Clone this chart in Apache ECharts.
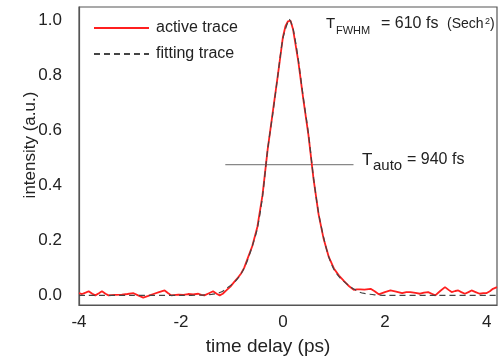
<!DOCTYPE html>
<html>
<head>
<meta charset="utf-8">
<script src="https://cdn.jsdelivr.net/npm/echarts@6/dist/echarts.min.js"></script>
<style>html,body{margin:0;padding:0;background:#fff}#c{width:501px;height:356px}</style>
</head>
<body>
<div id="c"></div>
<script>
// ---- data ----
var activeTime = [-4.0,-3.94,-3.87,-3.81,-3.74,-3.68,-3.61,-3.55,-3.48,-3.42,-3.3,-3.16,-3.05,-2.93,-2.84,-2.74,-2.64,-2.54,-2.43,-2.32,-2.25,-2.19,-2.05,-1.95,-1.86,-1.76,-1.66,-1.6,-1.54,-1.45,-1.37,-1.3,-1.24,-1.18,-1.11,-1.03,-0.95,-0.88,-0.82,-0.76,-0.7,-0.6,-0.5,-0.4,-0.3,-0.2,-0.1,0.0,0.05,0.1,0.12,0.15,0.2,0.3,0.4,0.5,0.6,0.7,0.8,0.9,1.0,1.1,1.2,1.3,1.39,1.45,1.52,1.6,1.72,1.8,1.88,2.0,2.11,2.22,2.34,2.42,2.5,2.6,2.69,2.77,2.85,2.92,2.99,3.08,3.18,3.25,3.31,3.38,3.44,3.5,3.57,3.64,3.7,3.78,3.86,3.93,3.99,4.06,4.12,4.2];
var activeVals = [0.008,0.005,0.01,0.015,0.006,0.0,0.008,0.015,0.006,0.0,0.002,0.003,0.005,0.008,0.0,-0.008,-0.002,0.005,0.012,0.018,0.008,0.0,0.003,0.002,0.005,0.004,0.006,0.002,0.0,0.008,0.015,0.006,0.0,0.006,0.018,0.032,0.05,0.065,0.08,0.1,0.13,0.18,0.25,0.365,0.53,0.665,0.8,0.94,0.98,0.998,1.005,1.0,0.968,0.855,0.715,0.585,0.425,0.295,0.205,0.14,0.098,0.072,0.052,0.033,0.02,0.022,0.022,0.021,0.024,0.015,0.004,0.012,0.018,0.014,0.008,0.012,0.012,0.009,0.006,0.01,0.012,0.006,0.0,0.015,0.03,0.02,0.012,0.016,0.018,0.012,0.006,0.012,0.018,0.012,0.006,0.008,0.008,0.015,0.024,0.03];
var fitTime = [-4.0,-3.0,-2.0,-1.6,-1.4,-1.3,-1.2,-1.1,-1.0,-0.9,-0.8,-0.7,-0.6,-0.5,-0.4,-0.3,-0.2,-0.1,0.0,0.1,0.12,0.2,0.3,0.4,0.5,0.6,0.7,0.8,0.9,1.0,1.1,1.2,1.3,1.4,1.5,1.6,1.8,2.0,3.0,4.2];
var fitVals = [0.0,0.0,0.0,0.001,0.004,0.007,0.013,0.027,0.04,0.058,0.085,0.125,0.18,0.245,0.36,0.53,0.66,0.8,0.935,0.998,1.005,0.97,0.86,0.72,0.59,0.43,0.3,0.21,0.14,0.095,0.068,0.05,0.035,0.022,0.012,0.007,0.002,0.0,0.0,0.0];
var halfTime = [-1.13, 1.385];
var halfVals = [0.476, 0.476];
var xTicks = [-4, -2, 0, 2, 4];
var yTicks = [0.0, 0.2, 0.4, 0.6, 0.8, 1.0];
var seriesNames = ['active trace', 'fitting trace'];

function pairs(xs, ys){ return xs.map(function(x,i){ return [x, ys[i]]; }); }

var FONT = 'Liberation Sans';
var TXT = '#222';
function label(text, x, y, size){
  return {type: 'text', x: x, y: y, silent: true,
    style: {text: text, fill: TXT, font: size + 'px "' + FONT + '"', textAlign: 'left'}};
}
var chart = echarts.init(document.getElementById('c'), null, {renderer:'canvas'});
chart.setOption({
  animation: false,
  backgroundColor: '#ffffff',
  textStyle: {fontFamily: FONT},
  grid: {left: 79, right: 4, top: 7, bottom: 51, show: true, borderColor: '#555', borderWidth: 1.2,
         containLabel: false, outerBoundsMode: 'none'},
  legend: {
    data: seriesNames, orient: 'vertical', left: 93, top: 20, padding: 0,
    itemWidth: 55, itemHeight: 14, itemGap: 10,
    itemStyle: {opacity: 0},
    textStyle: {fontFamily: FONT, fontSize: 16, color: TXT, padding: [0,0,0,2]}
  },
  xAxis: {
    type: 'value', min: -4, max: 4.2, interval: 2,
    axisLine: {show: true, onZero: false, lineStyle: {color: '#555', width: 1.2}},
    axisTick: {show: false}, splitLine: {show: false},
    axisLabel: {fontFamily: FONT, fontSize: 17, color: TXT, margin: 9,
      customValues: xTicks, formatter: function(v){ return String(v); }},
    name: 'time delay (ps)', nameLocation: 'middle', nameGap: 32, nameMoveOverlap: false,
    nameTextStyle: {fontFamily: FONT, fontSize: 19, color: TXT, padding: [0, 40, 0, 0]}
  },
  yAxis: {
    type: 'value', min: -0.035, max: 1.05,
    axisLine: {show: true, onZero: false, lineStyle: {color: '#555', width: 1.2}},
    axisTick: {show: false}, splitLine: {show: false},
    axisLabel: {fontFamily: FONT, fontSize: 17, color: TXT, margin: 17,
      customValues: yTicks, formatter: function(v){ return v.toFixed(1); }},
    name: 'intensity (a.u.)', nameLocation: 'middle', nameGap: 40, nameMoveOverlap: false,
    nameTextStyle: {fontFamily: FONT, fontSize: 17, color: TXT, padding: [0, 0, 0, 22]}
  },
  series: [
    {name: seriesNames[0], type: 'line', data: pairs(activeTime, activeVals), showSymbol: false, symbol: 'none',
     lineStyle: {color: '#ff1f1f', width: 1.8}, itemStyle: {color: '#ff1f1f'}, z: 2},
    {name: seriesNames[1], type: 'line', data: pairs(fitTime, fitVals), showSymbol: false, symbol: 'none', smooth: 0.3,
     lineStyle: {color: '#444', width: 1.2, type: [6, 4]}, itemStyle: {color: '#444'}, z: 3},
    {name: 'half', type: 'line', data: pairs(halfTime, halfVals), showSymbol: false, symbol: 'none',
     lineStyle: {color: '#888', width: 1.4}, z: 1, silent: true}
  ],
  graphic: [
    label('T', 326, 16.3, 15),
    label('FWHM', 336, 25.2, 11),
    label('= 610 fs', 381, 15.5, 16),
    label('(Sech', 447, 17.3, 14),
    label('2', 485, 16.7, 9),
    label(')', 490, 17.3, 14),
    label('T', 362, 151.4, 17),
    label('auto', 373, 158.5, 15),
    label('= 940 fs', 407, 151.7, 16)
  ]
});
</script>
</body>
</html>
